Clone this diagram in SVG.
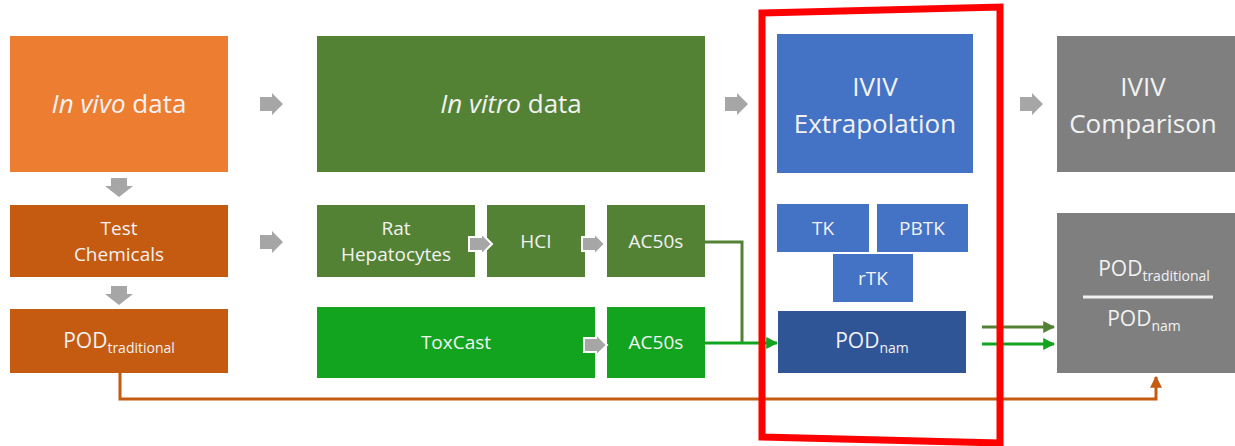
<svg xmlns="http://www.w3.org/2000/svg" width="1235" height="446" viewBox="0 0 1235 446">
  <defs>
    <style>
      text { font-family: "Open Sans", "Noto Sans", "Liberation Sans", sans-serif; fill: #F2F2F2; text-anchor: middle; }
      .big { font-size: 26px; }
      .mid { font-size: 19px; }
      .pod { font-size: 21px; }
      .sub { font-size: 14px; }
      .orange { fill: #ED7D31; }
      .rust { fill: #C55A11; }
      .olive { fill: #548235; }
      .lime { fill: #13A41F; }
      .blue { fill: #4472C4; }
      .navy { fill: #2F5597; }
      .grey { fill: #7F7F7F; }
      .step { fill: #A6A6A6; }
      .stepw { fill: #A6A6A6; stroke: #FFFFFF; stroke-width: 2; }
    </style>
    <marker id="headOlive" viewBox="0 0 10 10" refX="9" refY="5" markerWidth="4" markerHeight="4" orient="auto" markerUnits="strokeWidth">
      <path d="M0,0 L10,5 L0,10 z" fill="#548235"/>
    </marker>
    <marker id="headLime" viewBox="0 0 10 10" refX="9" refY="5" markerWidth="4" markerHeight="4" orient="auto" markerUnits="strokeWidth">
      <path d="M0,0 L10,5 L0,10 z" fill="#13A41F"/>
    </marker>
    <marker id="headRust" viewBox="0 0 10 10" refX="9" refY="5" markerWidth="4" markerHeight="4" orient="auto" markerUnits="strokeWidth">
      <path d="M0,0 L10,5 L0,10 z" fill="#C55A11"/>
    </marker>
    <path id="arrowRight" d="M0,4 H12 V0 L23,11 L12,22 V18 H0 z"/>
    <path id="arrowDown" d="M0,0 H16 V8 H22 L8,19 L-6,8 H0 z"/>
  </defs>

  <!-- in vivo column -->
  <g id="in-vivo">
    <rect class="orange" x="10" y="36" width="218" height="136"/>
    <text class="big" x="119" y="113"><tspan font-style="italic">In vivo</tspan> data</text>
  </g>
  <g id="test-chemicals">
    <rect class="rust" x="10" y="205" width="218" height="72"/>
    <text class="mid" x="119" y="235">Test</text>
    <text class="mid" x="119" y="261">Chemicals</text>
  </g>
  <g id="pod-traditional">
    <rect class="rust" x="10" y="309" width="218" height="64"/>
    <text class="pod" x="119" y="348">POD<tspan class="sub" dy="5">traditional</tspan></text>
  </g>

  <!-- in vitro column -->
  <g id="in-vitro">
    <rect class="olive" x="317" y="36" width="388" height="136"/>
    <text class="big" x="511" y="113"><tspan font-style="italic">In vitro</tspan> data</text>
  </g>
  <g id="rat-hepatocytes">
    <rect class="olive" x="317" y="205" width="158" height="72"/>
    <text class="mid" x="396" y="235">Rat</text>
    <text class="mid" x="396" y="261">Hepatocytes</text>
  </g>
  <g id="hci">
    <rect class="olive" x="487" y="205" width="98" height="72"/>
    <text class="mid" x="536" y="248">HCI</text>
  </g>
  <g id="ac50s-hci">
    <rect class="olive" x="607" y="205" width="98" height="72"/>
    <text class="mid" x="656" y="248">AC50s</text>
  </g>
  <g id="toxcast">
    <rect class="lime" x="317" y="307" width="278" height="71"/>
    <text class="mid" x="456" y="349">ToxCast</text>
  </g>
  <g id="ac50s-toxcast">
    <rect class="lime" x="607" y="307" width="98" height="71"/>
    <text class="mid" x="656" y="349">AC50s</text>
  </g>

  <!-- IVIV extrapolation column -->
  <g id="ivive">
    <rect class="blue" x="777" y="34" width="196" height="139"/>
    <text class="big" x="875" y="96">IVIV</text>
    <text class="big" x="875" y="133">Extrapolation</text>
  </g>
  <g id="tk">
    <rect class="blue" x="777" y="204" width="92" height="48"/>
    <text class="mid" x="823" y="235">TK</text>
  </g>
  <g id="pbtk">
    <rect class="blue" x="877" y="204" width="91" height="48"/>
    <text class="mid" x="922" y="235">PBTK</text>
  </g>
  <g id="rtk">
    <rect class="blue" x="833" y="254" width="80" height="48"/>
    <text class="mid" x="873" y="285">rTK</text>
  </g>
  <g id="pod-nam">
    <rect class="navy" x="778" y="311" width="188" height="62"/>
    <text class="pod" x="872" y="348">POD<tspan class="sub" dy="5">nam</tspan></text>
  </g>

  <!-- comparison column -->
  <g id="ivivc">
    <rect class="grey" x="1057" y="36" width="178" height="136"/>
    <text class="big" x="1143" y="96">IVIV</text>
    <text class="big" x="1143" y="133">Comparison</text>
  </g>
  <g id="pod-ratio">
    <rect class="grey" x="1057" y="213" width="178" height="160"/>
    <text class="pod" x="1154" y="276">POD<tspan class="sub" dy="5">traditional</tspan></text>
    <line x1="1083" y1="297" x2="1213" y2="297" stroke="#F2F2F2" stroke-width="3"/>
    <text class="pod" x="1144" y="326">POD<tspan class="sub" dy="5">nam</tspan></text>
  </g>

  <!-- connectors -->
  <g id="connectors">
    <!-- block step arrows -->
    <use href="#arrowRight" class="step" x="260" y="93"/>
    <use href="#arrowRight" class="step" x="725" y="93"/>
    <use href="#arrowRight" class="step" x="1020" y="93"/>
    <use href="#arrowRight" class="step" x="260" y="231"/>
    <use href="#arrowDown" class="step" x="111" y="178"/>
    <use href="#arrowDown" class="step" x="111" y="286"/>
    <use href="#arrowRight" class="stepw" x="469" y="233"/>
    <use href="#arrowRight" class="stepw" x="582" y="233"/>
    <use href="#arrowRight" class="stepw" x="584" y="334"/>

    <!-- AC50s to POD nam -->
    <polyline points="705,242 742,242 742,343" fill="none" stroke="#548235" stroke-width="3"/>
    <line x1="705" y1="343" x2="777" y2="343" stroke="#13A41F" stroke-width="3" marker-end="url(#headLime)"/>

    <!-- POD nam to ratio -->
    <line x1="982" y1="327" x2="1054" y2="327" stroke="#548235" stroke-width="3" marker-end="url(#headOlive)"/>
    <line x1="982" y1="344" x2="1054" y2="344" stroke="#13A41F" stroke-width="3" marker-end="url(#headLime)"/>

    <!-- POD traditional to ratio -->
    <polyline points="120,373 120,399 1156,399 1156,377" fill="none" stroke="#C55A11" stroke-width="3" marker-end="url(#headRust)"/>
  </g>

  <!-- highlight frame -->
  <polygon points="762,13 1000,7 1000,443 762,437" fill="none" stroke="#FF0000" stroke-width="7" stroke-linejoin="miter"/>
</svg>
